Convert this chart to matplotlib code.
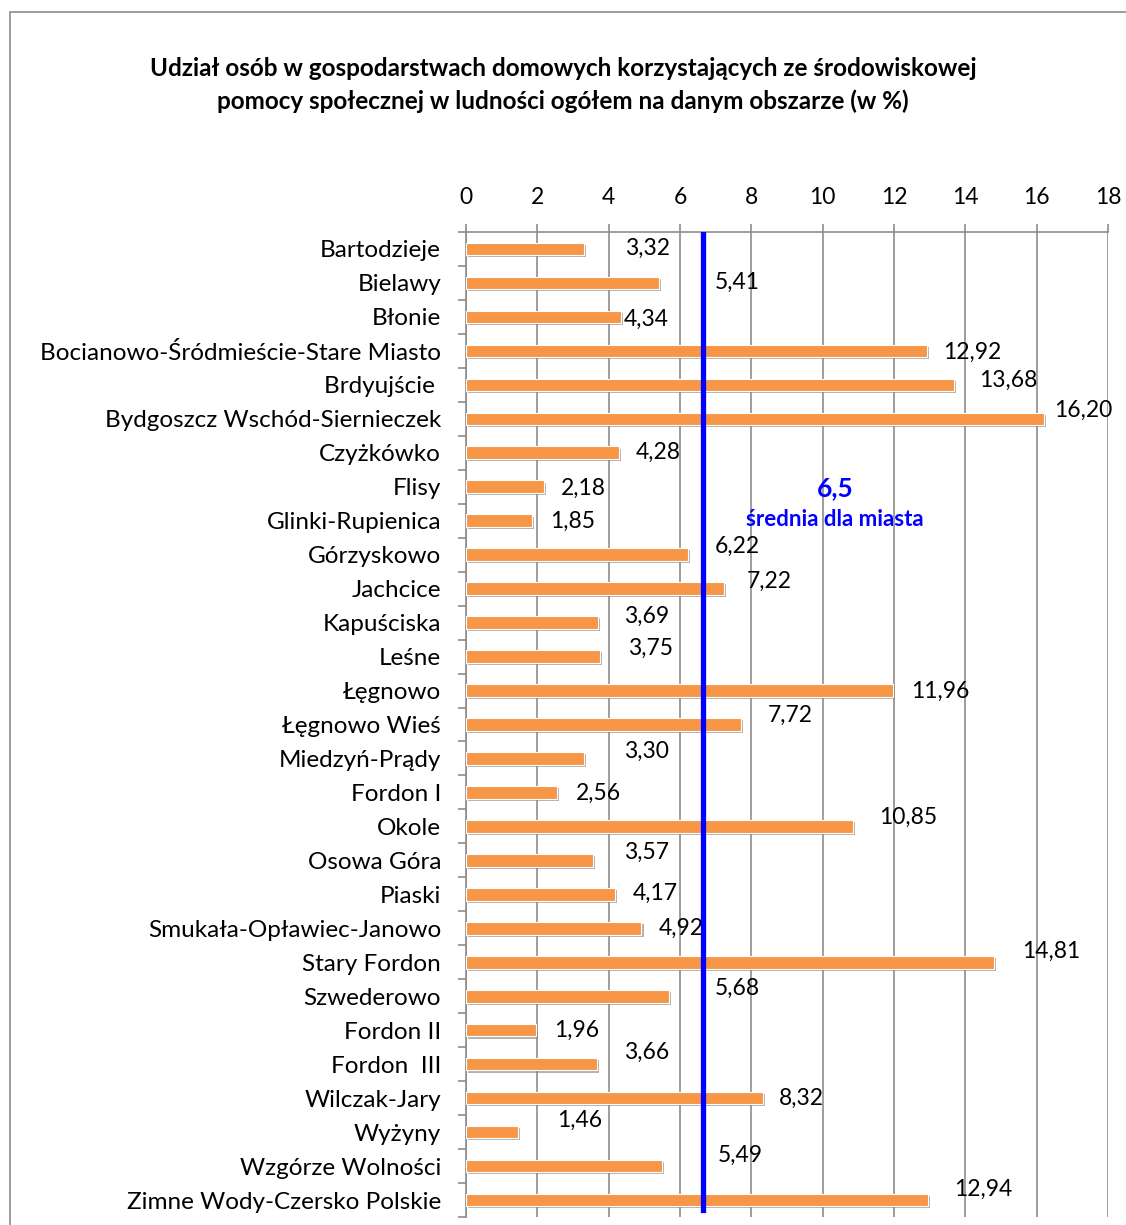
import matplotlib
matplotlib.use("Agg")
import matplotlib.pyplot as plt
import matplotlib.patheffects as pe
from matplotlib.patches import Rectangle
from matplotlib.ticker import FixedLocator

plt.rcParams['font.family'] = ['Lato', 'DejaVu Sans']

districts = [
    "Bartodzieje", "Bielawy", "Błonie", "Bocianowo-Śródmieście-Stare Miasto",
    "Brdyujście ", "Bydgoszcz Wschód-Siernieczek", "Czyżkówko", "Flisy",
    "Glinki-Rupienica", "Górzyskowo", "Jachcice", "Kapuściska", "Leśne",
    "Łęgnowo", "Łęgnowo Wieś", "Miedzyń-Prądy", "Fordon I", "Okole",
    "Osowa Góra", "Piaski", "Smukała-Opławiec-Janowo", "Stary Fordon",
    "Szwederowo", "Fordon II", "Fordon  III", "Wilczak-Jary", "Wyżyny",
    "Wzgórze Wolności", "Zimne Wody-Czersko Polskie",
]
shares = [
    3.32, 5.41, 4.34, 12.92, 13.68, 16.20, 4.28, 2.18, 1.85, 6.22,
    7.22, 3.69, 3.75, 11.96, 7.72, 3.30, 2.56, 10.85, 3.57, 4.17,
    4.92, 14.81, 5.68, 1.96, 3.66, 8.32, 1.46, 5.49, 12.94,
]
city_avg_label = "6,5"
city_avg_line = 6.65

# hand-placed data labels (as in the original Excel chart): x in data units, dy in category units
label_x = [5.10, 7.6, 5.05, 14.2, 15.2, 17.3, 5.4, 3.3, 3.0, 7.6,
           8.5, 5.07, 5.16, 13.3, 9.1, 5.07, 3.7, 12.4, 5.07, 5.3,
           6.03, 16.4, 7.6, 3.1, 5.07, 9.4, 3.2, 7.7, 14.5]
label_dy = [-1, -1, 2, 1, -5, -8, 0, 2, 1, -8,
            -7, -6, -8, 1, -9, -7, 1, -9, -8, -1,
            0, -11, -8, 0, -12, 0, -12, -11, -11]

fig = plt.figure(figsize=(11.26, 12.25), dpi=100)
fig.patches.append(Rectangle((10 / 1126, -0.1), 1.2, 1 - 12 / 1225 + 0.1,
                             transform=fig.transFigure, fill=False,
                             edgecolor='#8c8c8c', linewidth=1.2))

ax = fig.add_axes([466 / 1126, 1 - 1217 / 1225, 642 / 1126, 985 / 1225])
pos = list(range(len(districts)))

bars = ax.barh(pos, shares, height=0.37, color='#F79646', edgecolor='white',
               linewidth=0.8, zorder=3)
for b in bars:
    b.set_path_effects([pe.SimplePatchShadow(offset=(1.5, -1.5), shadow_rgbFace='#7f7f7f', alpha=0.6),
                        pe.Normal()])

for i, v in enumerate(shares):
    ax.text(label_x[i], i + label_dy[i] / 34.0, f"{v:.2f}".replace('.', ','),
            ha='center', va='center', fontsize=16.5, color='black', zorder=5)

ax.axvline(city_avg_line, ymin=0.007, ymax=0.998, color='#0000FF', linewidth=3.8, zorder=4)
ax.text(10.35, 7.05, city_avg_label, color='#0000FF', fontsize=19, fontweight='bold',
        ha='center', va='center', zorder=5)
ax.text(10.35, 7.95, "średnia dla miasta", color='#0000FF', fontsize=16, fontweight='bold',
        ha='center', va='center', zorder=5)

ax.set_xlim(0, 18)
ax.set_ylim(len(districts) - 0.5, -0.5)
ax.xaxis.set_major_locator(FixedLocator(range(0, 19, 2)))
ax.xaxis.tick_top()
ax.tick_params(axis='x', top=True, bottom=False, length=6, width=1.2, color='#8c8c8c',
               labelsize=16.5, pad=11)
ax.set_yticks(pos)
ax.set_yticklabels(districts)
ax.set_yticks([p - 0.5 for p in range(len(districts) + 1)], minor=True)
ax.tick_params(axis='y', which='major', length=0, labelsize=17.5, pad=18)
ax.tick_params(axis='y', which='minor', length=6, width=1.2, color='#8c8c8c')

ax.grid(axis='x', color='#8c8c8c', linewidth=1.2, zorder=0)
ax.set_axisbelow(True)
for s in ['right', 'bottom']:
    ax.spines[s].set_visible(False)
for s in ['left', 'top']:
    ax.spines[s].set_color('#8c8c8c')
    ax.spines[s].set_linewidth(1.2)

fig.text(0.5, 1 - 68 / 1225, "Udział osób w gospodarstwach domowych korzystających ze środowiskowej",
         ha='center', va='center', fontsize=17.5, fontweight='bold')
fig.text(0.5, 1 - 101 / 1225, "pomocy społecznej w ludności ogółem na danym obszarze (w %)",
         ha='center', va='center', fontsize=17.5, fontweight='bold')

fig.savefig("out.png", dpi=100)
